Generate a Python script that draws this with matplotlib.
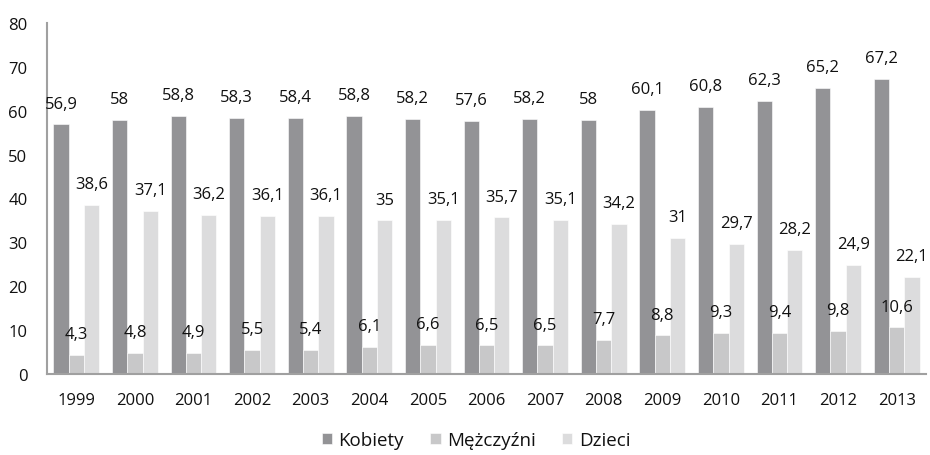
import numpy as np
import matplotlib.pyplot as plt

plt.rcParams['font.family'] = ['Open Sans', 'DejaVu Sans']

years = ['1999', '2000', '2001', '2002', '2003', '2004', '2005', '2006',
         '2007', '2008', '2009', '2010', '2011', '2012', '2013']
kobiety = [56.9, 58, 58.8, 58.3, 58.4, 58.8, 58.2, 57.6, 58.2, 58, 60.1, 60.8, 62.3, 65.2, 67.2]
mezczyzni = [4.3, 4.8, 4.9, 5.5, 5.4, 6.1, 6.6, 6.5, 6.5, 7.7, 8.8, 9.3, 9.4, 9.8, 10.6]
dzieci = [38.6, 37.1, 36.2, 36.1, 36.1, 35, 35.1, 35.7, 35.1, 34.2, 31, 29.7, 28.2, 24.9, 22.1]

series = [('Kobiety', kobiety, '#939396'),
          ('Mężczyźni', mezczyzni, '#c8c8c9'),
          ('Dzieci', dzieci, '#dcdcdd')]

fig = plt.figure(figsize=(9.3, 4.56), dpi=100)
ax = fig.add_axes([47 / 930, 1 - 375 / 456, 879 / 930, 351 / 456])

x = np.arange(len(years))
w = 0.26
for k, (name, vals, col) in enumerate(series):
    pos = x + (k - 1) * w
    ax.bar(pos, vals, width=w, color=col, label=name, edgecolor='white', linewidth=0.4)
    for px, v in zip(pos, vals):
        ax.annotate(('%g' % v).replace('.', ','), (px, v), xytext=(0, 15),
                    textcoords='offset points', ha='center', va='center',
                    fontsize=12, color='#111111')

ax.set_xlim(-0.5, len(years) - 0.5)
ax.set_ylim(0, 80)
ax.set_yticks(range(0, 81, 10))
ax.set_xticks(x)
ax.set_xticklabels(years)
ax.tick_params(length=0, labelsize=12, colors='#111111')
ax.tick_params(axis='x', pad=13)
ax.tick_params(axis='y', pad=14)
for s in ['top', 'right']:
    ax.spines[s].set_visible(False)
for s in ['left', 'bottom']:
    ax.spines[s].set_color('#a0a0a0')
    ax.spines[s].set_linewidth(1.5)

fig.legend(loc='center', bbox_to_anchor=(476 / 930, 1 - 441 / 456), ncol=3, frameon=False,
           fontsize=13.5, handlelength=0.55, handleheight=0.55, handletextpad=0.35,
           columnspacing=1.4, labelcolor='#111111')

fig.savefig('out.png', dpi=100)
